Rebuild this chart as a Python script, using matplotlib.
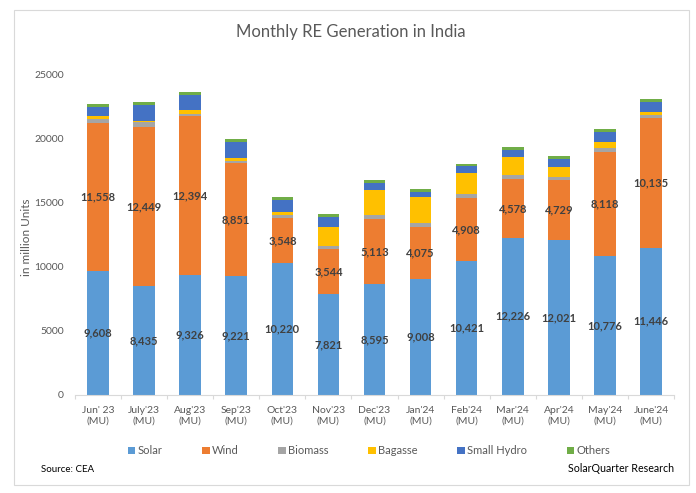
#!/usr/bin/env python
# -*- coding: utf-8 -*-
# Monthly RE generation in India, stacked bars
import numpy as np
from matplotlib import pyplot as plt
from matplotlib.patches import Rectangle

months = ["Jun' 23\n(MU)", "July'23\n(MU)", "Aug'23\n(MU)", "Sep'23\n(MU)",
          "Oct'23\n(MU)", "Nov'23\n(MU)", "Dec'23\n(MU)", "Jan'24\n(MU)",
          "Feb'24\n(MU)", "Mar'24\n(MU)", "Apr'24\n(MU)", "May'24\n(MU)",
          "June'24\n(MU)"]

solar = [9608, 8435, 9326, 9221, 10220, 7821, 8595, 9008, 10421, 12226, 12021, 10776, 11446]
wind = [11558, 12449, 12394, 8851, 3548, 3544, 5113, 4075, 4908, 4578, 4729, 8118, 10135]
biomass = [330, 390, 190, 170, 230, 240, 290, 290, 280, 315, 240, 336, 230]
bagasse = [200, 80, 250, 230, 230, 1455, 1950, 2000, 1690, 1430, 780, 495, 230]
small_hydro = [730, 1200, 1170, 1250, 965, 810, 545, 445, 500, 525, 630, 725, 785]
others = [230, 230, 290, 210, 235, 230, 240, 210, 180, 235, 230, 265, 235]

series = [("Solar", solar, "#5B9BD5"), ("Wind", wind, "#ED7D31"),
          ("Biomass", biomass, "#A5A5A5"), ("Bagasse", bagasse, "#FFC000"),
          ("Small Hydro", small_hydro, "#4472C4"), ("Others", others, "#70AD47")]

W, H = 696, 493
GREY = "#595959"

plt.rcParams['font.family'] = ['Lato', 'DejaVu Sans']

fig = plt.figure(figsize=(W / 100, H / 100), dpi=100)
ax = fig.add_axes([75 / W, 1 - 394.5 / H, 599 / W, 320.5 / H])

# chart frame
fig.add_artist(Rectangle((14 / W, 1 - 485 / H), 675 / W, 475 / H, transform=fig.transFigure,
                         facecolor="white", edgecolor="#D9D9D9", lw=0.8, zorder=-5))
ax.patch.set_alpha(0)

x = np.arange(len(months))
bottom = np.zeros(len(months))
for name, vals, col in series:
    ax.bar(x, vals, 0.47, bottom=bottom, color=col, label=name)
    bottom += np.array(vals)

# labels only on solar and wind
for i in x:
    ax.text(i, solar[i] / 2, f"{solar[i]:,}", ha="center", va="center", fontsize=8,
            fontweight="bold", color="#404040")
    ax.text(i, solar[i] + wind[i] / 2, f"{wind[i]:,}", ha="center", va="center", fontsize=8,
            fontweight="bold", color="#404040")

ax.set_xlim(-0.5, len(months) - 0.5)
ax.set_ylim(0, 25000)
ax.set_yticks(range(0, 25001, 5000))
ax.set_xticks(x)
ax.set_xticklabels(months, fontsize=7.5, color=GREY, linespacing=1.3)
ax.set_xticks(np.arange(-0.5, len(months)), minor=True)
ax.tick_params(axis="x", which="major", length=0, pad=8)
ax.tick_params(axis="x", which="minor", length=3, color="#D9D9D9", width=0.8)
ax.tick_params(axis="y", length=0, labelsize=7.5, labelcolor=GREY, pad=8)
for s in ("top", "right", "left"):
    ax.spines[s].set_visible(False)
ax.spines["bottom"].set_color("#D9D9D9")
ax.spines["bottom"].set_linewidth(0.8)

fig.text(27 / W, 1 - 237.5 / H, "in million Units", rotation=90, ha="center", va="center",
         fontsize=8.5, color=GREY)
fig.text(351 / W, 1 - 31.5 / H, "Monthly RE Generation in India", ha="center", va="center",
         fontsize=12, color=GREY)

fig.legend(loc="center", bbox_to_anchor=(369 / W, 1 - 451 / H), ncol=6, frameon=False,
           fontsize=8, labelcolor=GREY, handlelength=0.65, handleheight=0.65,
           handletextpad=0.2, columnspacing=3.6, borderpad=0, borderaxespad=0)

fig.text(41 / W, 1 - 469 / H, "Source: CEA", ha="left", va="center", fontsize=7, color="black")
fig.text(674 / W, 1 - 468 / H, "SolarQuarter Research", ha="right", va="center", fontsize=7.7,
         color="black")

fig.savefig("out.png", dpi=100)
